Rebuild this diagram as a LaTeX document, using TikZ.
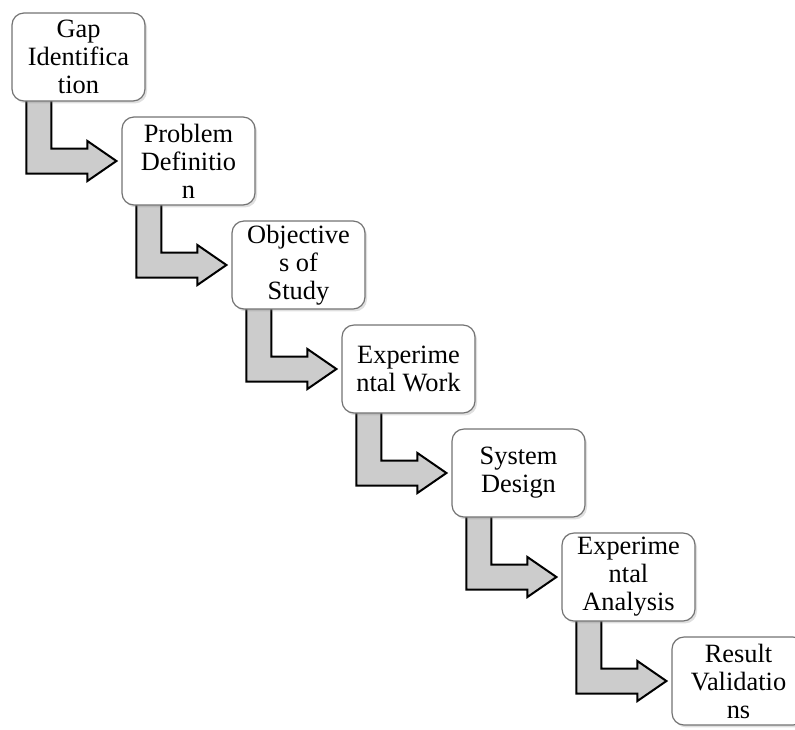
\documentclass[tikz,border=0pt]{standalone}
\usepackage{fontspec}
\setmainfont{Liberation Serif}
\usetikzlibrary{calc,shadows,backgrounds}

\begin{document}
\begin{tikzpicture}[x=0.5pt, y=-0.5pt,
    every node/.style={font=\fontsize{13.2}{14}\selectfont},
    stepbox/.style={draw=black!55, fill=white, rounded corners=6pt, line width=0.6pt,
      minimum width=66.5pt, minimum height=44pt, inner sep=0pt, align=center,
      drop shadow={opacity=0.25, shadow xshift=1pt, shadow yshift=-1.2pt}},
    flowarrow/.style={draw=black, fill=black!20, line width=1pt, line join=miter}]
  \useasboundingbox (0,0) rectangle (795,729);
  % the seven stages
  \foreach \txt [count=\i from 0] in {{Gap\\Identifica\\tion}, {Problem\\Definitio\\n},
      {Objective\\s of\\Study}, {Experime\\ntal Work}, {System\\Design},
      {Experime\\ntal\\Analysis}, {Result\\Validatio\\ns}}
    \node[stepbox] (b\i) at (78.5+110*\i, 57+104*\i) {\txt};
  % bent block arrows
  \begin{scope}[on background layer]
    \foreach \i [evaluate=\i as \j using int(\i+1)] in {0,...,5}
      \draw[flowarrow] ($(b\i.south west)+(15,-3)$)
        -- ($(b\i.south west |- b\j.west)+(15,12.5)$)
        -- ($(b\j.west)+(-34,12.5)$) -- ($(b\j.west)+(-34,20)$)
        -- ($(b\j.west)+(-5,0)$)
        -- ($(b\j.west)+(-34,-20)$) -- ($(b\j.west)+(-34,-12.5)$)
        -- ($(b\i.south west |- b\j.west)+(40,-12.5)$)
        -- ($(b\i.south west)+(40,-3)$) -- cycle;
  \end{scope}
\end{tikzpicture}
\end{document}
